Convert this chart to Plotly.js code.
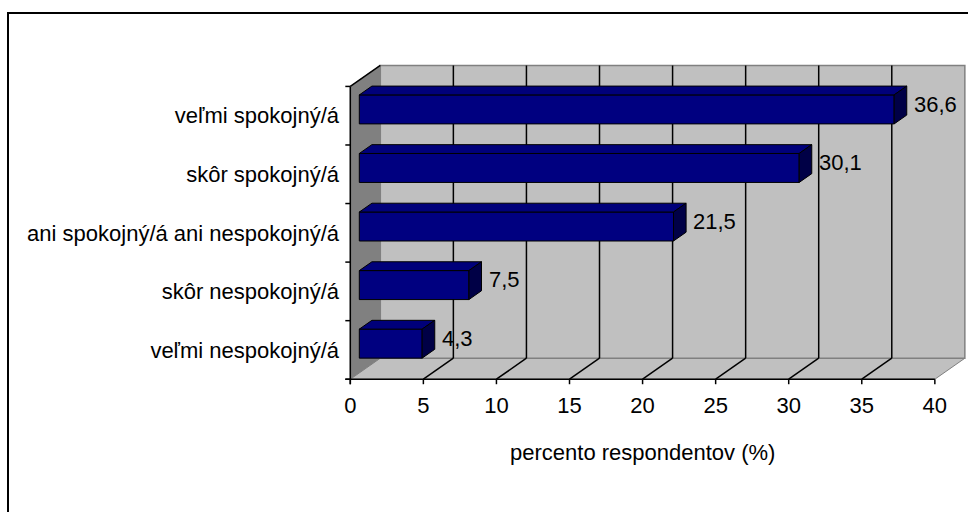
<!DOCTYPE html>
<html>
<head>
<meta charset="utf-8">
<script src="https://cdn.plot.ly/plotly-3.0.1.min.js"></script>
<style>
  html, body { margin: 0; padding: 0; background: #ffffff; }
  #chart { width: 968px; height: 512px; }
</style>
</head>
<body>
<div id="chart"></div>
<script>
// ---- data ----
const categories = ['veľmi nespokojný/á', 'skôr nespokojný/á', 'ani spokojný/á ani nespokojný/á', 'skôr spokojný/á', 'veľmi spokojný/á'];
const values = [4.3, 7.5, 21.5, 30.1, 36.6];
const valueLabels = ['4,3', '7,5', '21,5', '30,1', '36,6'];
const xTicks = [0, 5, 10, 15, 20, 25, 30, 35, 40];
const xTitle = 'percento respondentov (%)';

// ---- geometry / layout ----
const W = 968, H = 512;
const L = 343, R = 1, T = 63, B = 124;
const XR = [-0.5, 42.2], YR = [-0.15, 5.4];
const kx = (W - L - R) / (XR[1] - XR[0]);
const ky = (H - T - B) / (YR[1] - YR[0]);
const DX = 30 / kx, DY = 21 / ky;          // 3D depth vector
const XMAX = 40, NC = categories.length;
const barFront = 0.3, barDepth = 0.42, barHalf = 0.2475;
const FONT = 'Liberation Sans, Arial, sans-serif';
const FS = 22;

function seg(list) {
  const xs = [], ys = [];
  list.forEach(p => { p.forEach(q => { xs.push(q[0]); ys.push(q[1]); }); xs.push(null); ys.push(null); });
  return {x: xs, y: ys};
}
function poly(pts, fill, lineColor, lw, yax) {
  const s = seg([pts.concat([pts[0]])]);
  return {type: 'scatter', mode: 'lines', x: s.x, y: s.y, fill: 'toself', fillcolor: fill, yaxis: yax || 'y',
          line: {color: lineColor, width: lw}, hoverinfo: 'skip', showlegend: false};
}
function lines(list, color, w, yax) {
  const s = seg(list);
  return {type: 'scatter', mode: 'lines', x: s.x, y: s.y, line: {color: color, width: w}, yaxis: yax || 'y',
          hoverinfo: 'skip', showlegend: false};
}

const traces = [];
// ---- base subplot: walls, floor, gridlines ----
traces.push(poly([[0, 0], [DX, DY], [DX, NC + DY], [0, NC]], '#808080', '#808080', 1));
traces.push(poly([[0, 0], [XMAX, 0], [XMAX + DX, DY], [DX, DY]], '#C0C0C0', '#808080', 1));
traces.push(poly([[DX, DY], [XMAX + DX, DY], [XMAX + DX, NC + DY], [DX, NC + DY]], '#C0C0C0', '#808080', 1.5));
const grid = [];
xTicks.filter(v => v > 0 && v < XMAX).forEach(v => {
  grid.push([[v + DX, DY], [v + DX, NC + DY]]);
  grid.push([[v, 0], [v + DX, DY]]);
});
traces.push(lines(grid, '#000000', 1.5));
traces.push(lines([[[0, NC], [DX, NC + DY]]], '#000000', 1.5));

// ---- overlay subplot: bars, faces, axes ----
traces.push({type: 'bar', orientation: 'h', x: values, yaxis: 'y2',
             y: values.map((v, i) => i + 0.5 + barFront * DY),
             base: barFront * DX, width: 2 * barHalf,
             marker: {color: '#000080', line: {color: '#000000', width: 1}},
             hoverinfo: 'skip', showlegend: false});
const tops = [], sides = [];
values.forEach((v, i) => {
  const c = i + 0.5 + barFront * DY;
  const x0 = barFront * DX, x1 = v + barFront * DX;
  const ddx = barDepth * DX, ddy = barDepth * DY;
  const yt = c + barHalf, yb = c - barHalf;
  tops.push([[x0, yt], [x1, yt], [x1 + ddx, yt + ddy], [x0 + ddx, yt + ddy], [x0, yt]]);
  sides.push([[x1, yb], [x1, yt], [x1 + ddx, yt + ddy], [x1 + ddx, yb + ddy], [x1, yb]]);
});
const ts = seg(tops), ss = seg(sides);
traces.push({type: 'scatter', mode: 'lines', x: ts.x, y: ts.y, yaxis: 'y2', fill: 'toself', fillcolor: '#00007A',
             line: {color: '#000000', width: 1}, hoverinfo: 'skip', showlegend: false});
traces.push({type: 'scatter', mode: 'lines', x: ss.x, y: ss.y, yaxis: 'y2', fill: 'toself', fillcolor: '#000046',
             line: {color: '#000000', width: 1}, hoverinfo: 'skip', showlegend: false});

const tickLenX = 5 / ky, tickLenY = 5 / kx;
const axl = [[[-tickLenY, 0], [XMAX, 0]], [[0, -tickLenX], [0, NC]]];
xTicks.forEach(v => axl.push([[v, 0], [v, -tickLenX]]));
for (let j = 0; j <= NC; j++) axl.push([[-tickLenY, j], [0, j]]);
traces.push(lines(axl, '#000000', 1.5, 'y2'));

const annotations = values.map((v, i) => ({
  x: v + (barFront + barDepth) * DX, y: i + 0.5 + 0.55 * DY, xref: 'x', yref: 'y2',
  text: valueLabels[i], showarrow: false, xanchor: 'left', yanchor: 'middle', xshift: 5,
  font: {family: FONT, size: FS, color: '#000000'}
}));
annotations.push({
  x: XMAX / 2, y: 0, xref: 'x', yref: 'paper', yanchor: 'top', yshift: -50,
  text: xTitle, showarrow: false, font: {family: FONT, size: FS, color: '#000000'}
});

const pw = W - L - R, ph = H - T - B;
const layout = {
  width: W, height: H,
  margin: {l: L, r: R, t: T, b: B, pad: 0},
  paper_bgcolor: '#ffffff', plot_bgcolor: 'rgba(0,0,0,0)',
  showlegend: false,
  font: {family: FONT, size: FS, color: '#000000'},
  xaxis: {range: XR, tickvals: xTicks, ticktext: xTicks.map(String), ticks: '', showgrid: false,
          zeroline: false, showline: false, fixedrange: true, ticklabelstandoff: 2,
          tickfont: {family: FONT, size: FS, color: '#000000'}},
  yaxis: {range: YR, showticklabels: false, ticks: '', showgrid: false, zeroline: false,
          showline: false, fixedrange: true},
  yaxis2: {range: YR, overlaying: 'y', side: 'left', tickvals: categories.map((c, i) => i + 0.5),
           ticktext: categories, ticks: '', showgrid: false, zeroline: false, showline: false,
           fixedrange: true, ticklabelstandoff: 3, tickfont: {family: FONT, size: FS, color: '#000000'}},
  annotations: annotations,
  shapes: [{type: 'rect', xref: 'paper', yref: 'paper', layer: 'above',
            x0: (8 - L) / pw, x1: (W + 10 - L) / pw,
            y0: (H - B - (H + 10)) / ph, y1: (H - B - 13) / ph,
            line: {color: '#000000', width: 2}, fillcolor: 'rgba(0,0,0,0)'}]
};

Plotly.newPlot('chart', traces, layout, {staticPlot: true, displayModeBar: false});
</script>
</body>
</html>
